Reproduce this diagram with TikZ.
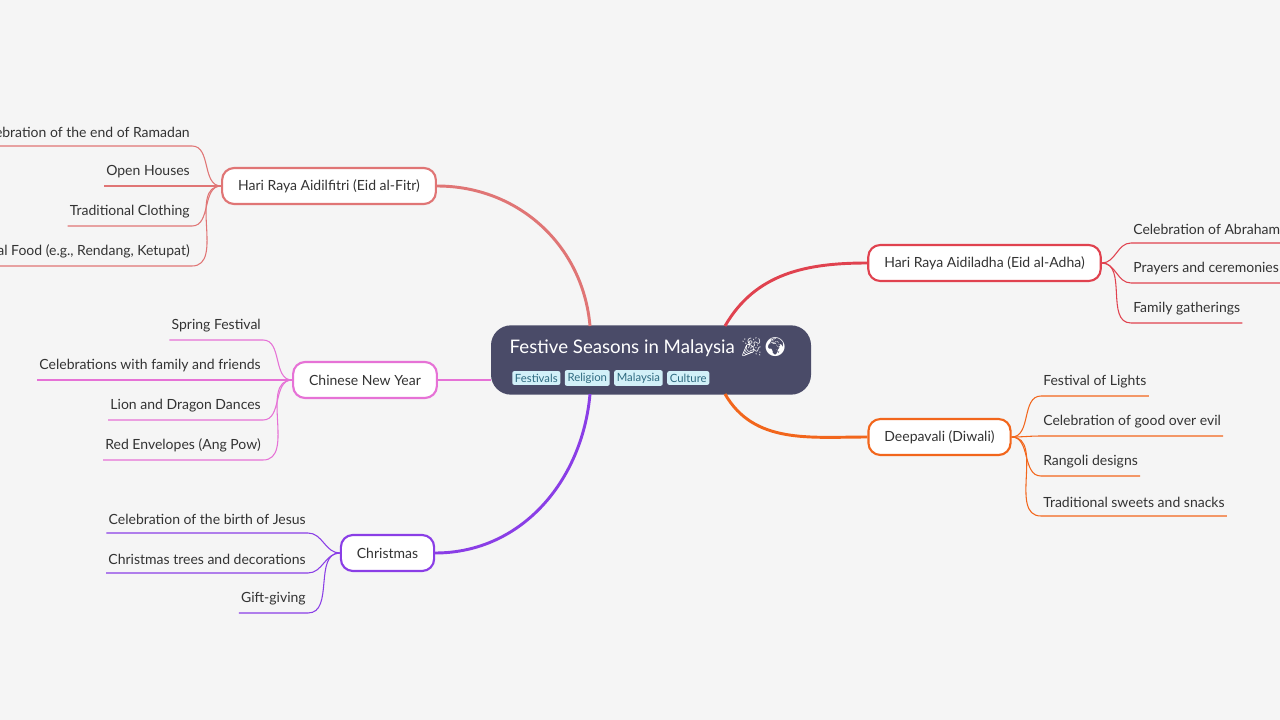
\documentclass[tikz,border=0pt]{standalone}
\usepackage{fontspec}
\setmainfont{Lato}
\newfontfamily\emojifont{Noto Emoji}
\usetikzlibrary{positioning}
\definecolor{bgcol}{HTML}{F5F5F5}
\definecolor{rootcol}{HTML}{4A4B68}
\definecolor{tagcol}{HTML}{D2F0F8}
\definecolor{tagtext}{HTML}{2E6A80}
\definecolor{fitri}{HTML}{E07575}
\definecolor{cny}{HTML}{E672D6}
\definecolor{xmas}{HTML}{8A3EE6}
\definecolor{adha}{HTML}{E0424F}
\definecolor{diwali}{HTML}{F2661C}
\definecolor{txt}{HTML}{333333}

\tikzset{
  branch/.style={draw=#1, line width=1.6pt, fill=white, rounded corners=9pt,
    minimum height=27pt, inner xsep=12pt, font=\fontsize{10.5}{12}\selectfont, text=txt},
  leaf/.style={inner xsep=1.5pt, inner ysep=6pt, font=\fontsize{10.5}{12}\selectfont, text=txt},
  tag/.style={fill=tagcol, rounded corners=1.5pt, inner xsep=2pt, inner ysep=2pt,
    font=\fontsize{8.5}{9}\selectfont, text=tagtext},
  thick edge/.style={draw=#1, line width=2.2pt},
  thin edge/.style={draw=#1, line width=0.8pt},
}

\begin{document}
\begin{tikzpicture}[x=0.75pt, y=-0.75pt]
    \useasboundingbox[fill=bgcol] (0,0) rectangle (1280,720);

    % central topic
    \node[fill=rootcol, rounded corners=15pt, minimum width=240pt, minimum height=52pt] (root) at (651,360) {};
    \node[anchor=west, text=white, font=\fontsize{14}{16}\selectfont] (title) at (505,347) {Festive Seasons in Malaysia {\emojifont 🎉🌍}};
    \node[tag, anchor=west] (t1) at (512,378) {Festivals};
    \node[tag, right=3pt of t1] (t2) {Religion};
    \node[tag, right=3pt of t2] (t3) {Malaysia};
    \node[tag, right=3pt of t3] (t4) {Culture};

    % main branches
    \node[branch=fitri] (fitr) at (329,186) {Hari Raya Aidilfitri (Eid al-Fitr)};
    \node[branch=cny] (cny) at (365,380) {Chinese New Year};
    \node[branch=xmas] (xmas) at (387.5,553) {Christmas};
    \node[branch=adha] (adha) at (984.5,263) {Hari Raya Aidiladha (Eid al-Adha)};
    \node[branch=diwali] (diwali) at (939.5,437) {Deepavali (Diwali)};

    \coordinate (rt) at (590,326);
    \coordinate (rb) at (590,394);
    \coordinate (rtr) at (725,326);
    \coordinate (rbr) at (725,394);
    \path[thick edge=fitri] (rt) to[out=95, in=0] (fitr.east);
    \path[thick edge=cny] (root.west |- cny.east) -- (cny.east);
    \path[thick edge=xmas] (rb) to[out=265, in=0] (xmas.east);
    \path[thick edge=adha] (rtr) to[out=60, in=180] (adha.west);
    \path[thick edge=diwali] (rbr) to[out=-60, in=180] (diwali.west);

    % leaves, left side
    \foreach \name/\y/\txt in {f1/146/Celebration of the end of Ramadan, f2/186/Open Houses,
        f3/226/Traditional Clothing, f4/266/{Traditional Food (e.g., Rendang, Ketupat)}} {
      \node[leaf, anchor=south east] (\name) at (192,\y) {\txt};
      \path[thin edge=fitri] (fitr.west) to[out=180, in=0] (\name.south east) -- (\name.south west);
    }
    \foreach \name/\y/\txt in {c1/340/Spring Festival, c2/380/Celebrations with family and friends,
        c3/420/Lion and Dragon Dances, c4/460/Red Envelopes (Ang Pow)} {
      \node[leaf, anchor=south east] (\name) at (263,\y) {\txt};
      \path[thin edge=cny] (cny.west) to[out=180, in=0] (\name.south east) -- (\name.south west);
    }
    \foreach \name/\y/\txt in {x1/533/Celebration of the birth of Jesus,
        x2/573/Christmas trees and decorations, x3/613/Gift-giving} {
      \node[leaf, anchor=south east] (\name) at (308,\y) {\txt};
      \path[thin edge=xmas] (xmas.west) to[out=180, in=0] (\name.south east) -- (\name.south west);
    }

    % leaves, right side
    \foreach \name/\y/\txt in {a1/243/Celebration of Abraham's sacrifice,
        a2/283/Prayers and ceremonies, a3/323/Family gatherings} {
      \node[leaf, anchor=south west] (\name) at (1131,\y) {\txt};
      \path[thin edge=adha] (adha.east) to[out=0, in=180] (\name.south west) -- (\name.south east);
    }
    \foreach \name/\y/\txt in {d1/396/Festival of Lights, d2/436/Celebration of good over evil,
        d3/476/Rangoli designs, d4/516/Traditional sweets and snacks} {
      \node[leaf, anchor=south west] (\name) at (1041,\y) {\txt};
      \path[thin edge=diwali] (diwali.east) to[out=0, in=180] (\name.south west) -- (\name.south east);
    }
\end{tikzpicture}
\end{document}
